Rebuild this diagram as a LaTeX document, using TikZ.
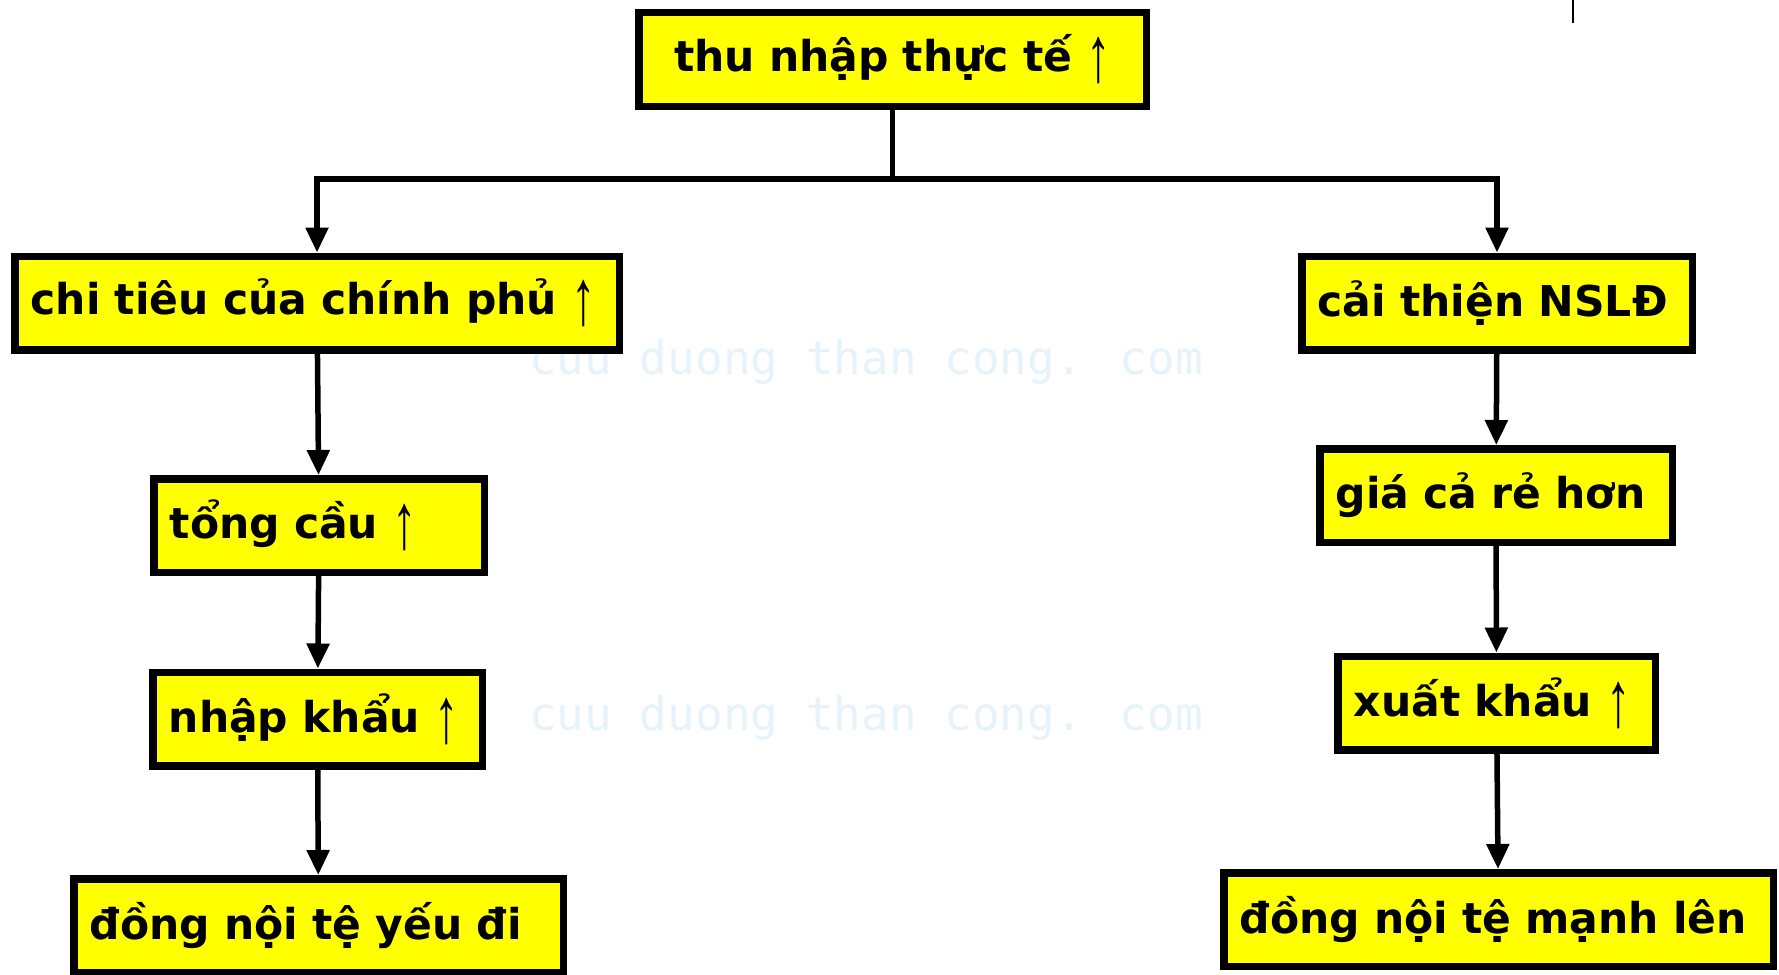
\documentclass[tikz,border=0pt]{standalone}
\usepackage{fontspec}
\usepackage{graphicx}
\setmainfont{DejaVu Sans}
\newfontfamily\wmfont{DejaVu Sans Mono}
\newfontfamily\arrfont{Liberation Sans}
\usetikzlibrary{arrows.meta}
\definecolor{boxyellow}{RGB}{255,255,0}
\definecolor{wmblue}{RGB}{230,243,251}
\newcommand{\uparr}{\raisebox{-0.24em}{\scalebox{1.15}[1.85]{\arrfont\mdseries ↑}}}
\tikzset{
  flowbox/.style={draw, line width=7.5pt, fill=boxyellow, inner xsep=16pt, inner ysep=0pt,
    minimum height=93.5pt, align=left, font=\bfseries\fontsize{42.5}{50}\selectfont},
  flowarrow/.style={line width=5.5pt, -{Triangle[length=25pt,width=22pt]}},
  watermark/.style={anchor=west, text=wmblue, inner sep=0pt, font=\wmfont\fontsize{46}{50}\selectfont}
}
\begin{document}
\begin{tikzpicture}[x=1pt,y=1pt,yscale=-1,xscale=1]
        \useasboundingbox (0,0) rectangle (1779,974);

        % Watermark
        \node[watermark] (wm1) at (529,362) {cuu duong than cong. com};
        \node[watermark] (wm2) at (529,718) {cuu duong than cong. com};

        % Text Node
        \node[flowbox, align=center, text width=475.5pt] (thunhap) at (892.5,59.5) {thu nhập thực tế \uparr};
        % Left column
        \node[flowbox, text width=572.5pt] (chitieu) at (317,303) {chi tiêu của chính phủ \uparr};
        \node[flowbox, text width=298.5pt] (tongcau) at (319,525.5) {tổng cầu \uparr};
        \node[flowbox, text width=297.5pt] (nhapkhau) at (317.5,719) {nhập khẩu \uparr};
        \node[flowbox, text width=457.5pt] (yeudi) at (318.5,925.5) {đồng nội tệ yếu đi};
        % Right column
        \node[flowbox, text width=358.5pt] (caithien) at (1497,303) {cải thiện NSLĐ};
        \node[flowbox, text width=320.5pt] (giaca) at (1496,495.5) {giá cả rẻ hơn};
        \node[flowbox, text width=285.5pt] (xuatkhau) at (1496.5,703) {xuất khẩu \uparr};
        \node[flowbox, text width=517.5pt] (manhlen) at (1498.5,919.5) {đồng nội tệ mạnh lên};

        % Straight Lines
        \coordinate (split) at (892.5,179);
        \draw[line width=5.5pt] (thunhap.south) -- (split);
        \draw[flowarrow] (split) -| (chitieu);
        \draw[flowarrow] (split) -| (caithien);
        \draw[flowarrow] (chitieu) -- (tongcau);
        \draw[flowarrow] (tongcau) -- (nhapkhau);
        \draw[flowarrow] (nhapkhau) -- (yeudi);
        \draw[flowarrow] (caithien) -- (giaca);
        \draw[flowarrow] (giaca) -- (xuatkhau);
        \draw[flowarrow] (xuatkhau) -- (manhlen);

        % Mark at top right
        \draw[line width=2pt] (1573,0) -- (1573,23);

\end{tikzpicture}
\end{document}
